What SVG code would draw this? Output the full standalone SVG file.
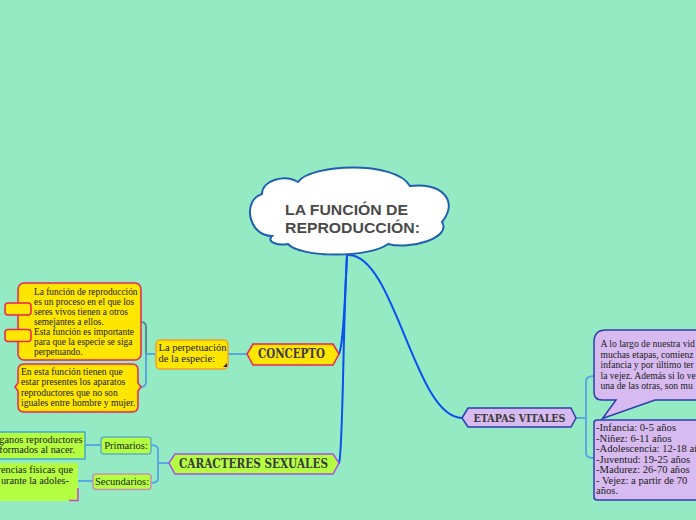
<svg xmlns="http://www.w3.org/2000/svg" width="696" height="520" viewBox="0 0 696 520">
<style>
.ser{font-family:"Liberation Serif","Times New Roman",serif;fill:#1a1a1a}
.hx{font-family:"DejaVu Serif",serif;font-weight:bold;fill:#3a3a3a}
.main{fill:none;stroke:#0a4ff0;stroke-width:2;stroke-linecap:round}
.sub{fill:none;stroke:#5aa8e0;stroke-width:2}
.yel{fill:#ffe600;stroke:#e8245a;stroke-width:1.5}
.lime{fill:#b4ff42}
.lav{fill:#d6baf0;stroke:#2e3cae;stroke-width:1.5}
.ttl{font-family:"Liberation Sans",Arial,sans-serif;font-weight:bold;font-size:15.5px;fill:#4a4a4a}
</style>
<rect width="696" height="520" fill="#94ebc3"/>

<g id="connectors">
  <path class="main" d="M347 255 C345 300 343 345 339 354"/>
  <path class="main" d="M347 255 C343 320 343 455 339 463"/>
  <path class="main" d="M349 255 C395 256 415 418 462 418"/>
  <path class="sub" d="M228 354 H247"/>
  <path class="sub" d="M156 354 H146"/>
  <path fill="none" stroke="#5a8a9a" stroke-width="2" d="M146 354 V327 Q146 322 141 322"/>
  <path class="sub" d="M146 354 V382 Q146 387 140 387"/>
  <path class="sub" d="M169 463 H158"/>
  <path class="sub" d="M158 463 V450 Q158 445 151 445"/>
  <path class="sub" d="M158 463 V478 Q158 483 151 483"/>
  <path class="sub" d="M101 445 H85"/>
  <path class="sub" d="M93 481 H78"/>
  <path class="sub" d="M576 418 H586"/>
  <path class="sub" d="M586 418 V381 Q586 376 595 376"/>
  <path class="sub" d="M586 418 V453 Q586 458 594 458"/>
</g>

<g id="root">
  <path d="M272 236 C248 236 242 200 262 194 C262 180 285 174 298 182 C310 164 395 160 410 186 C440 182 460 200 442 222 C452 238 410 250 388 244 C370 258 300 258 288 244 C278 246 266 242 272 236 Z" fill="#ffffff" stroke="#1f5fb0" stroke-width="2"/>
  <text class="ttl" x="285" y="215" textLength="123" lengthAdjust="spacingAndGlyphs">LA FUNCIÓN DE</text>
  <text class="ttl" x="285" y="233" textLength="135" lengthAdjust="spacingAndGlyphs">REPRODUCCIÓN:</text>
</g>

<g id="concepto">
  <path d="M247 354 L253 344 H333 L339 354 L333 365 H253 Z" class="yel"/>
  <text class="hx" x="258" y="358" font-size="12" textLength="67" lengthAdjust="spacingAndGlyphs">CONCEPTO</text>
</g>

<g id="perpetuacion">
  <rect x="156" y="340" width="72" height="29" rx="4" fill="#ffe600" stroke="#f0a030" stroke-width="1.5"/>
  <path d="M227 363 V367 H223 Z" fill="#222"/>
  <text class="ser" font-size="10.5"><tspan x="158.5" y="351">La perpetuación</tspan><tspan x="158.5" y="362">de la especie:</tspan></text>
</g>

<g id="nota-reproduccion">
  <rect x="18" y="283" width="123" height="77" rx="6" class="yel"/>
  <rect x="5" y="303" width="26" height="12" rx="3" class="yel"/>
  <rect x="5" y="329.5" width="26" height="12" rx="3" class="yel"/>
  <text class="ser" font-size="9.35">
    <tspan x="34" y="295">La función de reproducción</tspan>
    <tspan x="34" y="305">es un proceso en el que los</tspan>
    <tspan x="34" y="315">seres vivos tienen a otros</tspan>
    <tspan x="34" y="325">semejantes a ellos.</tspan>
    <tspan x="34" y="334.5">Esta función es importante</tspan>
    <tspan x="34" y="344.5">para que la especie se siga</tspan>
    <tspan x="34" y="354.5">perpetuando.</tspan>
  </text>
</g>

<g id="nota-aparatos">
  <path d="M24 364 H132 Q138 364 138 370 V383 L141 387 L138 391 V406 Q138 412 132 412 H24 Q18 412 18 406 V391 L15 387 L18 383 V370 Q18 364 24 364 Z" class="yel"/>
  <text class="ser" font-size="9.6">
    <tspan x="21" y="374.5">En esta función tienen que</tspan>
    <tspan x="21" y="385">estar presentes los aparatos</tspan>
    <tspan x="21" y="395.5">reproductores que no son</tspan>
    <tspan x="21" y="406">iguales entre hombre y mujer.</tspan>
  </text>
</g>

<g id="caracteres">
  <path d="M169 463 L175 454 H333 L339 463 L333 474 H175 Z" fill="#b4ff42" stroke="#a84ce6" stroke-width="1.5"/>
  <text class="hx" x="179" y="468" font-size="12.5" textLength="149" lengthAdjust="spacingAndGlyphs">CARACTERES SEXUALES</text>
</g>

<g id="primarios">
  <rect x="101" y="437" width="50" height="17" rx="3" class="lime" stroke="#5fb0c4" stroke-width="1.5"/>
  <text class="ser" font-size="10.5" x="126" y="449" text-anchor="middle">Primarios:</text>
</g>

<g id="secundarios">
  <rect x="93" y="474" width="58" height="15.5" rx="3" class="lime" stroke="#c890b4" stroke-width="1.5"/>
  <text class="ser" font-size="10.5" x="122" y="485" text-anchor="middle">Secundarios:</text>
</g>

<g id="nota-primarios">
  <rect x="-6" y="432" width="91" height="27" class="lime" stroke="#40a8d0" stroke-width="1.5"/>
  <text class="ser" font-size="10.3" text-anchor="end"><tspan x="82.5" y="443">ganos reproductores</tspan><tspan x="75" y="453">formados al nacer.</tspan></text>
</g>

<g id="nota-secundarios">
  <rect x="-6" y="463" width="84" height="38" class="lime"/>
  <path d="M78 488 V500.5 H69" fill="none" stroke="#d040c0" stroke-width="1.5"/>
  <text class="ser" font-size="10.3" text-anchor="end"><tspan x="73" y="473">rencias físicas que</tspan><tspan x="69" y="483.5">urante la adoles-</tspan></text>
</g>

<g id="etapas">
  <path d="M462 418 L468 408 H571 L576 418 L571 427 H468 Z" class="lav"/>
  <text class="hx" x="473.5" y="422" font-size="11" textLength="92" lengthAdjust="spacingAndGlyphs">ETAPAS VITALES</text>
</g>

<g id="nota-etapas">
  <path d="M606 330 H702 V400 H655 L602.5 418.5 L616 400 H602 Q594 400 594 392 V342 Q594 330 606 330 Z" class="lav"/>
  <text class="ser" font-size="9.6">
    <tspan x="600.5" y="347">A lo largo de nuestra vid</tspan>
    <tspan x="600.5" y="357.5">muchas etapas, comienz</tspan>
    <tspan x="600.5" y="368">infancia y por último ter</tspan>
    <tspan x="600.5" y="378.5">la vejez. Además si lo ve</tspan>
    <tspan x="600.5" y="389">una de las otras, son mu</tspan>
  </text>
</g>

<g id="lista-etapas">
  <rect x="594" y="420" width="110" height="80" rx="3" class="lav"/>
  <text class="ser" font-size="10.6">
    <tspan x="596" y="431">-Infancia: 0-5 años</tspan>
    <tspan x="596" y="441.5">-Niñez:  6-11 años</tspan>
    <tspan x="596" y="452">-Adolescencia: 12-18 añ</tspan>
    <tspan x="596" y="462.5">-Juventud: 19-25 años</tspan>
    <tspan x="596" y="473">-Madurez: 26-70 años</tspan>
    <tspan x="596" y="483.5">- Vejez: a partir de 70</tspan>
    <tspan x="596" y="494">años.</tspan>
  </text>
</g>
</svg>
